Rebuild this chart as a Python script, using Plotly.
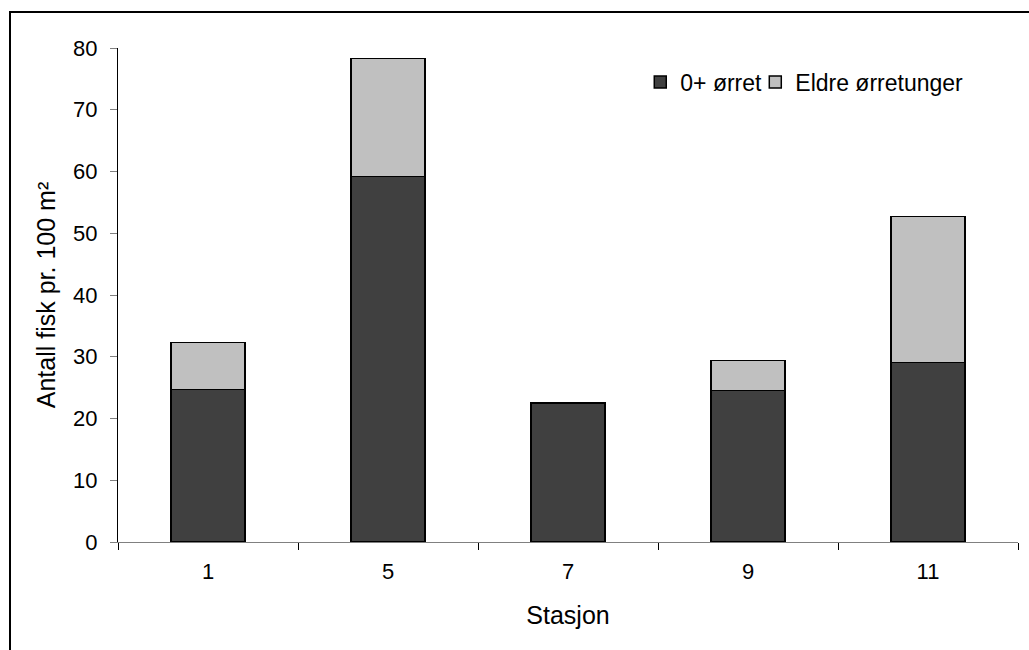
import plotly.graph_objects as go

stations = ["1", "5", "7", "9", "11"]
yngel = [24.7, 59.2, 22.5, 24.5, 29.1]
eldre = [7.6, 19.1, 0.0, 4.9, 23.6]

font_family = "Liberation Sans, Arial, sans-serif"

fig = go.Figure()
fig.add_trace(go.Bar(
    x=stations, y=yngel, name="0+ ørret",
    marker=dict(color="#404040", line=dict(color="#000000", width=1.5)),
    width=0.41, legend="legend",
))
fig.add_trace(go.Bar(
    x=stations, y=eldre, name="Eldre ørretunger",
    marker=dict(color="#C0C0C0", line=dict(color="#000000", width=1.5)),
    width=0.41, legend="legend2",
))

legend_common = dict(
    orientation="h", y=0.931, xanchor="left", yanchor="middle",
    font=dict(size=23, family=font_family, color="#000000"),
    bgcolor="rgba(0,0,0,0)", itemwidth=30,
)

fig.update_layout(
    barmode="stack",
    width=1029, height=650,
    margin=dict(l=118, r=11, t=48, b=108),
    paper_bgcolor="white", plot_bgcolor="white",
    font=dict(family=font_family, size=22, color="#000000"),
    showlegend=True,
    legend=dict(x=0.5803, **legend_common),
    legend2=dict(x=0.7081, **legend_common),
    xaxis=dict(
        type="category", range=[-0.5, 4.5],
        showline=True, linecolor="#808080", linewidth=1,
        ticks="outside", tickson="boundaries", ticklen=7, tickcolor="#000000",
        showgrid=False, zeroline=False,
        tickfont=dict(size=22),
        ticklabelstandoff=10,
        title=dict(text="Stasjon", font=dict(size=25), standoff=23),
    ),
    yaxis=dict(
        range=[0, 80], dtick=10,
        showline=True, linecolor="#000000", linewidth=1,
        ticks="outside", ticklen=7, tickcolor="#808080",
        showgrid=False, zeroline=False,
        tickfont=dict(size=22),
        ticklabelstandoff=8,
        title=dict(text="Antall fisk pr. 100 m²", font=dict(size=25), standoff=10),
    ),
)

fig.add_shape(
    type="rect", xref="paper", yref="paper",
    x0=-0.12, x1=1.05, y0=-0.3, y1=1.0729,
    line=dict(color="#000000", width=2), fillcolor="rgba(0,0,0,0)", layer="below",
)

fig.write_html(
    "out.html",
    config={"displayModeBar": False},
    post_script="document.body.style.margin='0px';",
)
